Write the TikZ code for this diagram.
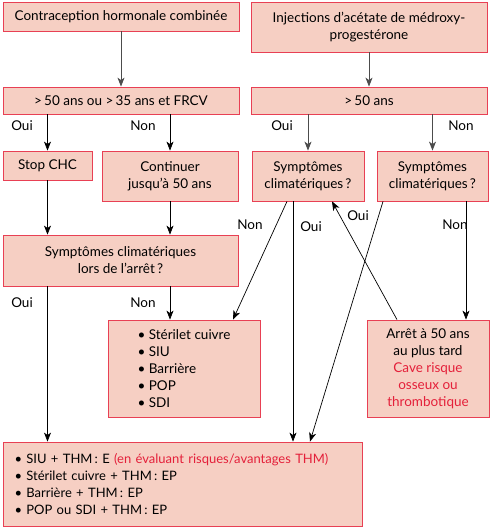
\documentclass[tikz,border=0pt]{standalone}
\usepackage{fontspec}
\setmainfont{Lato}
\usetikzlibrary{arrows.meta}
\definecolor{boxfill}{RGB}{246,207,195}
\definecolor{boxline}{RGB}{232,64,84}
\definecolor{alertred}{RGB}{228,32,58}
\begin{document}
\begin{tikzpicture}[x=1pt, y=-1pt, font=\fontsize{13.5}{17}\selectfont]
			\useasboundingbox (0,0) rectangle (492,528);
			\begin{scope}[every node/.style={draw=boxline, fill=boxfill, line width=0.8pt, inner sep=0pt, align=center}]
				\node[minimum width=236pt, minimum height=29pt] (a) at (121,16.5) {Contraception hormonale combinée};
				\node[minimum width=236pt, minimum height=50pt] (b) at (369,27) {Injections d’acétate de médroxy-\\progestérone};
				\node[minimum width=236pt, minimum height=27pt] (c) at (121,100.5) {>\,50 ans ou >\,35 ans et FRCV};
				\node[minimum width=236pt, minimum height=27pt] (d) at (369,100.5) {>\,50 ans};
				\node[minimum width=89pt, minimum height=29pt] (e) at (47.5,165.5) {Stop CHC};
				\node[minimum width=136pt, minimum height=50pt] (f) at (170,176) {Continuer\\jusqu’à 50 ans};
				\node[minimum width=112pt, minimum height=50pt] (g) at (308,176) {Symptômes\\climatériques\,?};
				\node[minimum width=111pt, minimum height=50pt] (h) at (432.5,176) {Symptômes\\climatériques\,?};
				\node[minimum width=235pt, minimum height=51pt] (i) at (120.5,260.5) {Symptômes climatériques\\lors de l’arrêt\,?};
				\node[minimum width=152pt, minimum height=97pt, align=left] (j) at (184,368.5) {\textbullet\ Stérilet cuivre\\\textbullet\ SIU\\\textbullet\ Barrière\\\textbullet\ POP\\\textbullet\ SDI};
				\node[minimum width=122pt, minimum height=97pt] (k) at (428,368.5) {Arrêt à 50 ans\\au plus tard\\\textcolor{alertred}{Cave risque}\\\textcolor{alertred}{osseux ou}\\\textcolor{alertred}{thrombotique}};
				\node[minimum width=359pt, minimum height=84pt, text width=336pt, align=left, font=\fontsize{13}{17}\selectfont] (l) at (182.5,484) {\textbullet\ SIU + THM\,: E \textcolor{alertred}{(en évaluant risques/avantages THM)}\\\textbullet\ Stérilet cuivre + THM\,: EP\\\textbullet\ Barrière + THM\,: EP\\\textbullet\ POP ou SDI + THM\,: EP};
			\end{scope}
			\coordinate (gv) at ([xshift=-15pt]g.south);
			\coordinate (hv) at ([xshift=33.5pt]h.south);
			\begin{scope}[every edge/.style={draw=black!70, line width=0.9pt, -{Stealth[length=9pt, width=7pt, inset=2.5pt]}}]
				\path (a) edge (c);
				\path (b) edge (d);
				\path (d.south -| g) edge (g);
				\path (d.south -| h) edge (h);
			\end{scope}
			\begin{scope}[every edge/.style={draw=black, line width=0.7pt, -{Stealth[length=9pt, width=7pt, inset=2.5pt]}}]
				\path (c.south -| e) edge (e);
				\path (c.south -| f) edge (f);
				\path (e) edge (i.north -| e);
				\path (f) edge (i.north -| f);
				\path (i.south -| e) edge (l.north -| e);
				\path (i.south -| f) edge (j.north -| f);
				\path ([xshift=-21pt]g.south) edge ([xshift=49pt]j.north);
				\path (gv) edge (gv |- l.north);
				\path ([xshift=-31pt]k.north) edge ([xshift=24pt]g.south);
				\path ([xshift=-49.5pt]h.south) edge ([xshift=127.5pt]l.north);
				\path (hv) edge (hv |- k.north);
			\end{scope}
			\node (l1) at (22,126) {Oui};
			\node (l2) at (143,126) {Non};
			\node (l3) at (282,126) {Oui};
			\node (l4) at (461,126) {Non};
			\node (l5) at (250,225) {Non};
			\node (l6) at (311,227) {Oui};
			\node (l7) at (358,216) {Oui};
			\node (l8) at (455,225) {Non};
			\node (l9) at (22,303) {Oui};
			\node (l10) at (143,303) {Non};
		\end{tikzpicture}
\end{document}
